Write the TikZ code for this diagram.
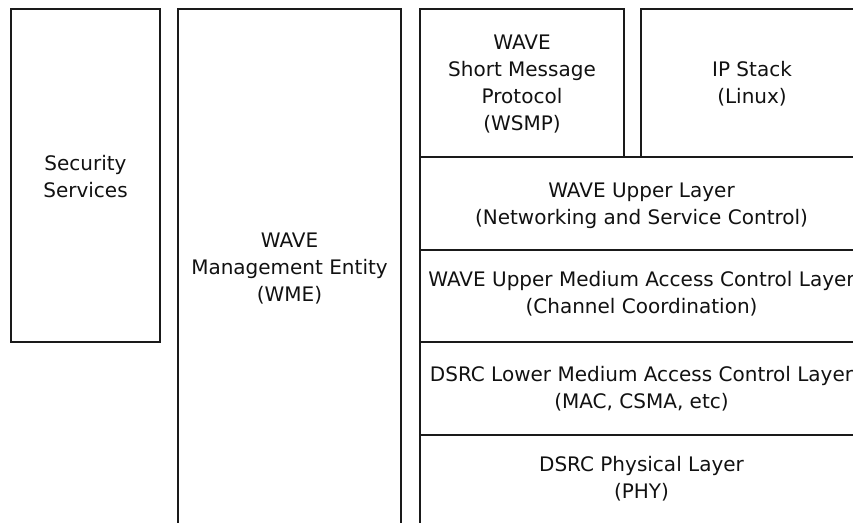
\documentclass[tikz,border=0pt]{standalone}
\usepackage{fontspec}
\setmainfont{DejaVu Sans}
\usetikzlibrary{fit}
\definecolor{lineDark}{HTML}{1A1A1A}
\definecolor{textDark}{HTML}{111111}

\begin{document}
\begin{tikzpicture}[x=0.75pt, y=-0.75pt,
    font=\fontsize{15}{20.2}\selectfont,
    layerbox/.style={draw=lineDark, line width=1.2pt, inner sep=0pt},
    layertext/.style={align=center, text=textDark, inner sep=0pt, yshift=-0.5pt}]
    \useasboundingbox (0,0) rectangle (853,523);
    \clip (0,0) rectangle (853,523);
    % side columns
    \node[layerbox, fit={(11,9) (160,342)}] (sec) {};
    \node[layerbox, fit={(178,9) (401,527)}] (wme) {};
    % protocol stack
    \node[layerbox, fit={(420,9) (624,157)}] (wsmp) {};
    \node[layerbox, fit={(641,9) (863,157)}] (ipstack) {};
    \node[layerbox, fit={(420,157) (863,250)}] (upper) {};
    \node[layerbox, fit={(420,250) (863,342)}] (umac) {};
    \node[layerbox, fit={(420,342) (863,435)}] (lmac) {};
    \node[layerbox, fit={(420,435) (863,527)}] (phy) {};
    % labels
    \node[layertext] (secText) at (sec) {Security\\Services};
    \node[layertext] (wmeText) at (wme) {WAVE\\Management Entity\\(WME)};
    \node[layertext] (wsmpText) at (wsmp) {WAVE\\Short Message\\Protocol\\(WSMP)};
    \node[layertext] (ipstackText) at (ipstack) {IP Stack\\(Linux)};
    \node[layertext, yshift=-1.5pt] (upperText) at (upper) {WAVE Upper Layer\\(Networking and Service Control)};
    \node[layertext, yshift=2pt] (umacText) at (umac) {WAVE Upper Medium Access Control Layer\\(Channel Coordination)};
    \node[layertext] (lmacText) at (lmac) {DSRC Lower Medium Access Control Layer\\(MAC, CSMA, etc)};
    \node[layertext, yshift=2.5pt] (phyText) at (phy) {DSRC Physical Layer\\(PHY)};
\end{tikzpicture}
\end{document}
